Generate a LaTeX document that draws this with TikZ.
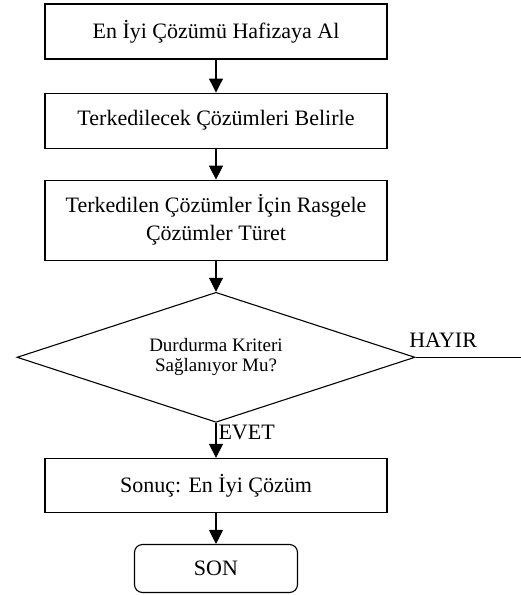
\documentclass[tikz,border=0pt]{standalone}
\usepackage{fontspec}
\setmainfont{Liberation Serif}
\usetikzlibrary{positioning,arrows.meta,shapes.geometric}

\begin{document}
\begin{tikzpicture}[
    x=1pt, y=1pt,
    font=\fontsize{22}{28}\selectfont,
    >={Triangle[width=14pt,length=14pt]},
    stepbox/.style={
        draw=black,
        fill=white,
        align=center,
        inner sep=4pt,
        line width=1.1pt,
        minimum width=342pt,
        minimum height=55pt
    },
    decision/.style={
        draw=black,
        diamond,
        aspect=3,
        align=center,
        inner sep=0pt,
        line width=1.1pt,
        minimum width=398pt,
        minimum height=130pt,
        font=\fontsize{19}{20}\selectfont
    },
    endbox/.style={
        draw=black,
        rounded corners=8pt,
        line width=1.1pt,
        minimum width=163pt,
        minimum height=48pt
    },
    flow/.style={->, line width=1.1pt, draw=black}
]
    \useasboundingbox (0,0) rectangle (520,-595);

    \node[stepbox] (best) at (216,-31.5) {En İyi Çözümü Hafizaya Al};
    \node[stepbox, below=33pt of best] (mark) {Terkedilecek Çözümleri Belirle};
    \node[stepbox, below=31pt of mark, minimum height=80pt] (random) {
        Terkedilen Çözümler İçin Rasgele\\
        Çözümler Türet
    };
    \node[decision, below=31pt of random] (stop) {
        Durdurma Kriteri\\
        Sağlanıyor Mu?
    };
    \node[stepbox, below=35pt of stop, minimum height=54pt] (result) {Sonuç: En İyi Çözüm};
    \node[endbox, below=31pt of result] (finish) {SON};
    \coordinate[right=106pt of stop.east] (no);

    \draw[flow] (best) -- (mark);
    \draw[flow] (mark) -- (random);
    \draw[flow] (random) -- (stop);
    \draw[flow] (stop) -- node[pos=0, anchor=north west, inner sep=2pt] {EVET} (result);
    \draw[flow] (result) -- (finish);
    \draw[line width=1.1pt] (stop.east) -- node[pos=0.26, above=6pt] {HAYIR} (no);

\end{tikzpicture}
\end{document}
